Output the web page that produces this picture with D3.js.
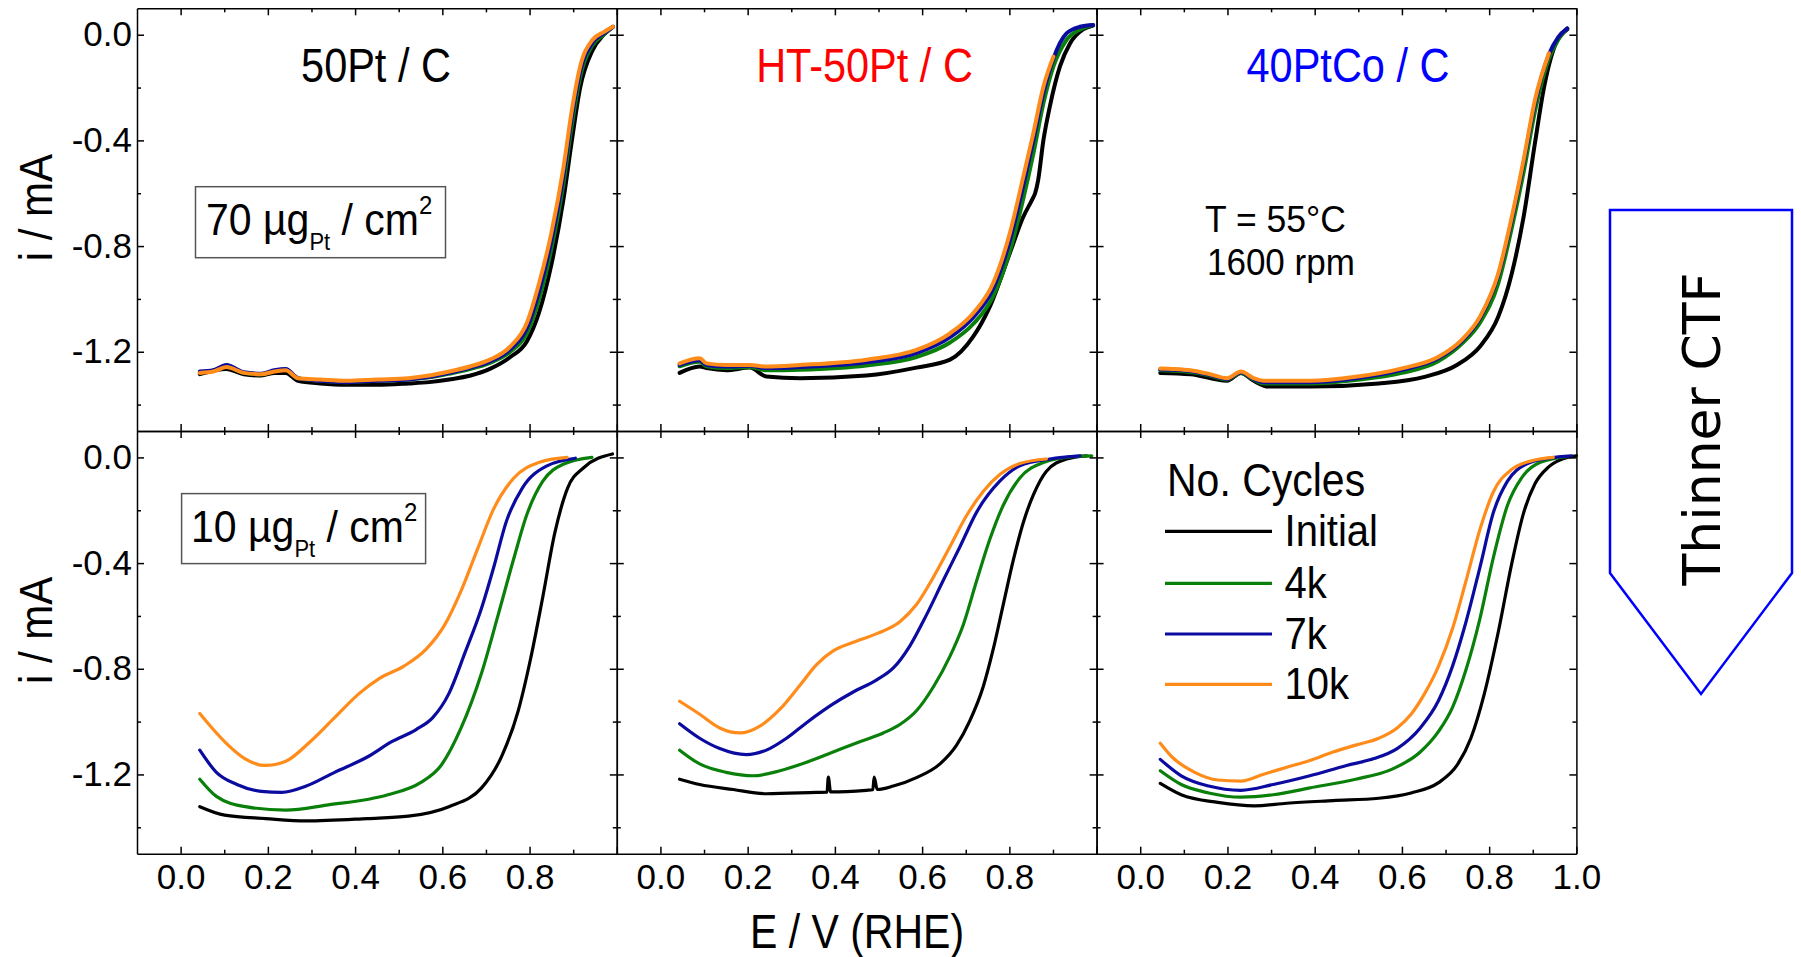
<!DOCTYPE html>
<html><head><meta charset="utf-8">
<script src="https://cdn.jsdelivr.net/npm/d3@7"></script>
<style>body{margin:0;background:#fff;} svg{display:block;}</style>
</head><body>
<svg id="chart" width="1801" height="957"></svg>
<script>
// ---------------- data ----------------
const seriesNames = ["Initial", "4k", "7k", "10k"];
const seriesColors = ["#000000", "#0a800a", "#0b0ba0", "#ff8c1a"];
const panelTitles = ["50Pt / C", "HT-50Pt / C", "40PtCo / C"];
const titleColors = ["#000000", "#ff0000", "#0000ff"];
const loadings = ["70", "10"];
const xDomain = [-0.1, 1.0];
const yDomain = [-1.5, 0.1];
const xMajorTicks = [0, 0.2, 0.4, 0.6, 0.8, 1.0];
const xMinorTicks = [0.1, 0.3, 0.5, 0.7, 0.9];
const xTickLabels = ["0.0", "0.2", "0.4", "0.6", "0.8", "1.0"];
const yMajorTicks = [0, -0.4, -0.8, -1.2];
const yMinorTicks = [-0.2, -0.6, -1.0, -1.4];
const yTickLabels = ["0.0", "-0.4", "-0.8", "-1.2"];

// top row: 70 ugPt/cm2
const t1_init = [[0.044,-1.285],[0.105,-1.265],[0.145,-1.285],[0.185,-1.29],[0.215,-1.28],[0.241,-1.28],[0.269,-1.31],[0.32,-1.32],[0.381,-1.325],[0.45,-1.325],[0.522,-1.32],[0.57,-1.315],[0.616,-1.305],[0.665,-1.29],[0.709,-1.265],[0.756,-1.22],[0.794,-1.16],[0.822,-1.05],[0.85,-0.87],[0.878,-0.62],[0.897,-0.40],[0.916,-0.20],[0.944,-0.06],[0.97,0.0],[0.991,0.03]];
const t1_4k = [[0.044,-1.278],[0.075,-1.272],[0.105,-1.252],[0.145,-1.28],[0.185,-1.285],[0.215,-1.272],[0.241,-1.268],[0.269,-1.30],[0.32,-1.31],[0.381,-1.315],[0.45,-1.31],[0.522,-1.305],[0.57,-1.297],[0.616,-1.283],[0.665,-1.265],[0.709,-1.242],[0.756,-1.20],[0.794,-1.13],[0.822,-1.0],[0.85,-0.81],[0.878,-0.56],[0.897,-0.34],[0.916,-0.16],[0.944,-0.04],[0.97,0.0],[0.991,0.03]];
const t1_7k = [[0.044,-1.275],[0.075,-1.27],[0.105,-1.25],[0.145,-1.278],[0.185,-1.283],[0.215,-1.27],[0.241,-1.265],[0.269,-1.30],[0.32,-1.31],[0.381,-1.315],[0.45,-1.31],[0.522,-1.305],[0.57,-1.295],[0.616,-1.28],[0.665,-1.26],[0.709,-1.237],[0.756,-1.19],[0.794,-1.11],[0.822,-0.97],[0.85,-0.78],[0.878,-0.53],[0.897,-0.31],[0.916,-0.14],[0.944,-0.03],[0.97,0.005],[0.991,0.03]];
const t1_10k = [[0.044,-1.28],[0.075,-1.275],[0.105,-1.258],[0.145,-1.28],[0.185,-1.285],[0.215,-1.275],[0.241,-1.27],[0.269,-1.30],[0.32,-1.305],[0.381,-1.31],[0.45,-1.305],[0.522,-1.30],[0.57,-1.29],[0.616,-1.275],[0.665,-1.255],[0.709,-1.23],[0.756,-1.18],[0.794,-1.09],[0.822,-0.94],[0.85,-0.75],[0.878,-0.50],[0.897,-0.285],[0.916,-0.12],[0.944,-0.02],[0.97,0.01],[0.991,0.03]];

const t2_init = [[0.044,-1.28],[0.09,-1.256],[0.106,-1.262],[0.151,-1.27],[0.205,-1.26],[0.243,-1.294],[0.32,-1.30],[0.472,-1.29],[0.587,-1.26],[0.664,-1.23],[0.717,-1.143],[0.755,-1.03],[0.801,-0.827],[0.832,-0.689],[0.852,-0.625],[0.859,-0.60],[0.866,-0.55],[0.878,-0.40],[0.893,-0.27],[0.916,-0.12],[0.939,-0.033],[0.969,0.02],[0.992,0.035]];
const t2_4k = [[0.044,-1.255],[0.09,-1.238],[0.106,-1.255],[0.151,-1.262],[0.205,-1.258],[0.243,-1.27],[0.32,-1.268],[0.472,-1.252],[0.587,-1.22],[0.664,-1.165],[0.717,-1.095],[0.763,-0.99],[0.801,-0.82],[0.832,-0.62],[0.855,-0.45],[0.878,-0.26],[0.901,-0.12],[0.931,-0.02],[0.962,0.02],[0.992,0.037]];
const t2_7k = [[0.044,-1.25],[0.09,-1.232],[0.106,-1.25],[0.151,-1.256],[0.205,-1.253],[0.243,-1.262],[0.32,-1.258],[0.472,-1.24],[0.587,-1.205],[0.664,-1.145],[0.717,-1.07],[0.763,-0.96],[0.801,-0.78],[0.832,-0.57],[0.855,-0.40],[0.878,-0.22],[0.901,-0.09],[0.931,0.005],[0.962,0.03],[0.992,0.037]];
const t2_10k = [[0.044,-1.244],[0.09,-1.225],[0.106,-1.244],[0.151,-1.25],[0.205,-1.25],[0.243,-1.256],[0.32,-1.25],[0.472,-1.23],[0.587,-1.193],[0.664,-1.13],[0.717,-1.054],[0.763,-0.94],[0.801,-0.752],[0.832,-0.537],[0.855,-0.373],[0.878,-0.197],[0.901,-0.083]];

const t3_init = [[0.046,-1.28],[0.115,-1.285],[0.199,-1.31],[0.231,-1.28],[0.26,-1.31],[0.294,-1.332],[0.389,-1.332],[0.547,-1.32],[0.652,-1.295],[0.726,-1.25],[0.779,-1.18],[0.821,-1.067],[0.852,-0.903],[0.879,-0.689],[0.905,-0.41],[0.926,-0.197],[0.947,-0.058],[0.979,0.02]];
const t3_4k = [[0.046,-1.27],[0.08,-1.272],[0.115,-1.277],[0.16,-1.29],[0.199,-1.305],[0.231,-1.28],[0.26,-1.305],[0.283,-1.32],[0.389,-1.32],[0.494,-1.307],[0.6,-1.28],[0.684,-1.235],[0.737,-1.17],[0.779,-1.09],[0.821,-0.94],[0.852,-0.73],[0.879,-0.52],[0.905,-0.29],[0.937,-0.09],[0.958,-0.02],[0.979,0.024]];
const t3_7k = [[0.046,-1.267],[0.08,-1.268],[0.115,-1.273],[0.16,-1.288],[0.199,-1.303],[0.231,-1.278],[0.26,-1.303],[0.283,-1.315],[0.389,-1.315],[0.494,-1.3],[0.6,-1.268],[0.684,-1.224],[0.737,-1.16],[0.779,-1.072],[0.821,-0.91],[0.852,-0.70],[0.879,-0.485],[0.905,-0.26],[0.937,-0.075],[0.958,-0.01],[0.979,0.024]];
const t3_10k = [[0.046,-1.263],[0.08,-1.265],[0.115,-1.27],[0.16,-1.285],[0.199,-1.30],[0.231,-1.275],[0.26,-1.30],[0.283,-1.31],[0.389,-1.31],[0.494,-1.295],[0.6,-1.263],[0.684,-1.219],[0.737,-1.155],[0.779,-1.067],[0.821,-0.903],[0.852,-0.689],[0.879,-0.474],[0.905,-0.247],[0.937,-0.07]];

// bottom row: 10 ugPt/cm2
const b1_init = [[0.044,-1.322],[0.101,-1.354],[0.195,-1.367],[0.288,-1.376],[0.428,-1.367],[0.522,-1.358],[0.615,-1.322],[0.69,-1.251],[0.737,-1.128],[0.774,-0.959],[0.802,-0.765],[0.83,-0.531],[0.858,-0.285],[0.887,-0.117],[0.924,-0.039],[0.99,0.013]];
const b1_4k = [[0.044,-1.218],[0.082,-1.283],[0.148,-1.322],[0.241,-1.335],[0.335,-1.316],[0.475,-1.277],[0.55,-1.231],[0.597,-1.166],[0.643,-1.024],[0.69,-0.816],[0.728,-0.596],[0.765,-0.376],[0.793,-0.22],[0.83,-0.091],[0.877,-0.026],[0.943,0.0]];
const b1_7k = [[0.044,-1.108],[0.082,-1.192],[0.129,-1.238],[0.185,-1.264],[0.232,-1.268],[0.288,-1.244],[0.353,-1.192],[0.428,-1.134],[0.484,-1.076],[0.54,-1.03],[0.578,-0.985],[0.615,-0.894],[0.652,-0.739],[0.69,-0.57],[0.718,-0.415],[0.746,-0.246],[0.783,-0.117],[0.84,-0.032],[0.905,-0.003]];
const b1_10k = [[0.044,-0.969],[0.072,-1.024],[0.109,-1.089],[0.147,-1.14],[0.194,-1.166],[0.24,-1.151],[0.297,-1.076],[0.353,-0.985],[0.409,-0.894],[0.456,-0.836],[0.512,-0.79],[0.563,-0.726],[0.605,-0.635],[0.643,-0.505],[0.68,-0.35],[0.718,-0.194],[0.764,-0.078],[0.821,-0.019],[0.886,0.0]];

const b2_init = [[0.044,-1.218],[0.09,-1.238],[0.167,-1.257],[0.243,-1.273],[0.358,-1.268],[0.382,-1.267],[0.385,-1.21],[0.39,-1.266],[0.472,-1.26],[0.487,-1.258],[0.49,-1.21],[0.497,-1.257],[0.534,-1.244],[0.587,-1.212],[0.641,-1.16],[0.679,-1.089],[0.709,-0.998],[0.74,-0.868],[0.763,-0.726],[0.786,-0.557],[0.809,-0.389],[0.832,-0.246],[0.855,-0.142],[0.885,-0.052],[0.931,-0.006],[0.977,0.006]];
const b2_4k = [[0.044,-1.108],[0.09,-1.16],[0.151,-1.192],[0.213,-1.205],[0.274,-1.186],[0.335,-1.154],[0.396,-1.115],[0.457,-1.076],[0.511,-1.043],[0.549,-1.011],[0.587,-0.959],[0.626,-0.868],[0.664,-0.752],[0.694,-0.635],[0.725,-0.467],[0.755,-0.311],[0.786,-0.181],[0.824,-0.078],[0.878,-0.019],[0.947,0.003],[0.989,0.006]];
const b2_7k = [[0.044,-1.008],[0.09,-1.063],[0.136,-1.102],[0.197,-1.125],[0.243,-1.108],[0.289,-1.063],[0.335,-1.004],[0.396,-0.933],[0.442,-0.888],[0.496,-0.842],[0.534,-0.797],[0.572,-0.713],[0.61,-0.596],[0.648,-0.467],[0.687,-0.337],[0.725,-0.207],[0.778,-0.09],[0.824,-0.032],[0.893,-0.006],[0.962,0.006]];
const b2_10k = [[0.044,-0.923],[0.09,-0.972],[0.136,-1.024],[0.182,-1.043],[0.228,-1.017],[0.274,-0.953],[0.32,-0.862],[0.358,-0.784],[0.396,-0.732],[0.442,-0.7],[0.496,-0.667],[0.549,-0.622],[0.587,-0.557],[0.626,-0.453],[0.664,-0.337],[0.702,-0.22],[0.74,-0.129],[0.778,-0.065],[0.824,-0.023],[0.885,-0.006]];

const b3_init = [[0.046,-1.234],[0.094,-1.277],[0.178,-1.306],[0.262,-1.319],[0.336,-1.309],[0.442,-1.299],[0.547,-1.29],[0.621,-1.27],[0.684,-1.231],[0.726,-1.166],[0.758,-1.063],[0.789,-0.894],[0.821,-0.66],[0.852,-0.40],[0.879,-0.21],[0.905,-0.10],[0.937,-0.035],[0.979,0.0],[1.0,0.006]];
const b3_4k = [[0.046,-1.186],[0.094,-1.238],[0.157,-1.27],[0.231,-1.286],[0.305,-1.277],[0.389,-1.251],[0.494,-1.218],[0.579,-1.179],[0.642,-1.115],[0.684,-1.037],[0.716,-0.946],[0.747,-0.803],[0.779,-0.609],[0.81,-0.376],[0.842,-0.181],[0.874,-0.078],[0.916,-0.019],[0.979,0.003]];
const b3_7k = [[0.046,-1.143],[0.094,-1.205],[0.157,-1.244],[0.231,-1.26],[0.305,-1.238],[0.389,-1.205],[0.473,-1.166],[0.536,-1.14],[0.589,-1.102],[0.642,-1.024],[0.684,-0.92],[0.716,-0.79],[0.747,-0.622],[0.779,-0.415],[0.81,-0.207],[0.842,-0.09],[0.884,-0.026],[0.937,-0.003],[0.989,0.006]];
const b3_10k = [[0.046,-1.082],[0.073,-1.134],[0.125,-1.192],[0.178,-1.221],[0.231,-1.225],[0.283,-1.199],[0.336,-1.173],[0.389,-1.147],[0.442,-1.115],[0.494,-1.089],[0.547,-1.063],[0.589,-1.024],[0.621,-0.972],[0.652,-0.894],[0.684,-0.79],[0.716,-0.648],[0.747,-0.467],[0.779,-0.272],[0.81,-0.129],[0.852,-0.045],[0.905,-0.01],[0.947,0.0]];

const panelData = [
  [[t1_init, t1_4k, t1_7k, t1_10k], [t2_init, t2_4k, t2_7k, t2_10k], [t3_init, t3_4k, t3_7k, t3_10k]],
  [[b1_init, b1_4k, b1_7k, b1_10k], [b2_init, b2_4k, b2_7k, b2_10k], [b3_init, b3_4k, b3_7k, b3_10k]]
];

// ---------------- layout ----------------
const FONT = "'Liberation Sans', Arial, sans-serif";
const plotLeft = 137, panelW = 479.8, panelH = 422.7;
const rowTop = [8.3, 431.0];
const rowStroke = [4, 3.2];
const svg = d3.select("#chart");

function sText(parent, str, x, y, size, sy, anchor, color) {
  return parent.append("text")
    .attr("transform", `translate(${x},${y}) scale(1,${sy})`)
    .attr("font-family", FONT).attr("font-size", size)
    .attr("text-anchor", anchor || "start").attr("fill", color || "#000")
    .text(str);
}

for (let r = 0; r < 2; r++) {
  for (let c = 0; c < 3; c++) {
    const x0 = plotLeft + c * panelW, y0 = rowTop[r];
    const x = d3.scaleLinear().domain(xDomain).range([x0, x0 + panelW]);
    const y = d3.scaleLinear().domain(yDomain).range([y0 + panelH, y0]);
    const g = svg.append("g");

    const line = d3.line().x(d => x(d[0])).y(d => y(d[1])).curve(d3.curveMonotoneX);
    panelData[r][c].forEach((s, k) => {
      g.append("path").attr("d", line(s)).attr("fill", "none")
        .attr("stroke", seriesColors[k]).attr("stroke-width", rowStroke[r])
        .attr("stroke-linejoin", "round").attr("stroke-linecap", "round");
    });

    const styleAxis = sel => {
      sel.selectAll("path,line").attr("stroke", "#000").attr("stroke-width", 1.5);
      sel.attr("font-family", FONT).attr("font-size", 35);
      sel.selectAll("text").attr("fill", "#000");
    };
    const minorAxis = (ax, ticks, pos) => {
      const m = g.append("g").attr("transform", pos).call(ax.tickValues(ticks).tickSize(-4).tickSizeOuter(0).tickFormat(""));
      m.select(".domain").remove();
      styleAxis(m);
    };

    // bottom
    const xLabelFmt = d => {
      if (r !== 1) return "";
      const i = xMajorTicks.indexOf(d);
      if (c < 2 && d === 1.0) return "";
      return xTickLabels[i];
    };
    g.append("g").attr("transform", `translate(0,${y0 + panelH})`)
      .call(d3.axisBottom(x).tickValues(xMajorTicks).tickSize(-7).tickSizeOuter(0).tickPadding(10).tickFormat(xLabelFmt))
      .call(styleAxis);
    minorAxis(d3.axisBottom(x), xMinorTicks, `translate(0,${y0 + panelH})`);
    // top
    g.append("g").attr("transform", `translate(0,${y0})`)
      .call(d3.axisTop(x).tickValues(xMajorTicks).tickSize(-7).tickSizeOuter(0).tickFormat(""))
      .call(styleAxis);
    minorAxis(d3.axisTop(x), xMinorTicks, `translate(0,${y0})`);
    // left
    const yLabelFmt = d => (c === 0 ? yTickLabels[yMajorTicks.indexOf(d)] : "");
    g.append("g").attr("transform", `translate(${x0},0)`)
      .call(d3.axisLeft(y).tickValues(yMajorTicks).tickSize(-7).tickSizeOuter(0).tickPadding(5).tickFormat(yLabelFmt))
      .call(styleAxis);
    minorAxis(d3.axisLeft(y), yMinorTicks, `translate(${x0},0)`);
    // right
    g.append("g").attr("transform", `translate(${x0 + panelW},0)`)
      .call(d3.axisRight(y).tickValues(yMajorTicks).tickSize(-7).tickSizeOuter(0).tickFormat(""))
      .call(styleAxis);
    minorAxis(d3.axisRight(y), yMinorTicks, `translate(${x0 + panelW},0)`);
  }
}

// panel titles
const titleCenters = [376, 864.5, 1348];
panelTitles.forEach((t, i) => sText(svg, t, titleCenters[i], 81.5, 41.5, 1.14, "middle", titleColors[i]));

// loading boxes
function loadingBox(num, bx, by, bw, bh, tx, ty) {
  svg.append("rect").attr("x", bx).attr("y", by).attr("width", bw).attr("height", bh)
    .attr("fill", "none").attr("stroke", "#555").attr("stroke-width", 1.5);
  const sy = 1.1;
  const t = svg.append("text").attr("transform", `translate(${tx},${ty}) scale(1,${sy})`)
    .attr("font-family", FONT).attr("font-size", 41).attr("fill", "#000");
  t.append("tspan").text(num + " µg");
  t.append("tspan").attr("font-size", 22).attr("dy", 13.6).text("Pt");
  t.append("tspan").attr("dy", -13.6).text(" / cm");
  t.append("tspan").attr("font-size", 24).attr("dy", -19).text("2");
}
loadingBox(loadings[0], 195.5, 186.7, 250, 71, 206, 235);
loadingBox(loadings[1], 181.6, 493.6, 244, 70, 191, 541.6);

// conditions
sText(svg, "T = 55°C", 1205, 231.7, 35.5, 1.06, "start");
sText(svg, "1600 rpm", 1207, 275, 35, 1.06, "start");

// legend
sText(svg, "No. Cycles", 1167, 496, 41, 1.12, "start");
const legY = [531.3, 583.4, 634, 684.4];
seriesNames.forEach((n, k) => {
  svg.append("line").attr("x1", 1165).attr("x2", 1272).attr("y1", legY[k]).attr("y2", legY[k])
    .attr("stroke", seriesColors[k]).attr("stroke-width", 3.2);
  sText(svg, n, 1284.6, legY[k] + 14.5, 40, 1.12, "start");
});

// axis titles
[0, 1].forEach(r => {
  const cy = rowTop[r] + panelH / 2 - 12;
  svg.append("text").attr("transform", `translate(52,${cy}) rotate(-90) scale(1,1.1)`)
    .attr("font-family", FONT).attr("font-size", 42).attr("text-anchor", "middle").attr("fill", "#000")
    .text("i / mA");
});
sText(svg, "E / V (RHE)", 857, 948, 41, 1.15, "middle");

// Thinner CTF arrow
svg.append("polygon")
  .attr("points", [[1610, 210], [1792, 210], [1792, 573], [1701, 694], [1610, 573]].map(p => p.join(",")).join(" "))
  .attr("fill", "none").attr("stroke", "#0000ff").attr("stroke-width", 2.5);
svg.append("text").attr("transform", "translate(1720,429) rotate(-90)")
  .attr("font-family", "'DejaVu Sans', sans-serif").attr("font-size", 52)
  .attr("text-anchor", "middle").attr("fill", "#000").text("Thinner CTF");
</script>
</body></html>
